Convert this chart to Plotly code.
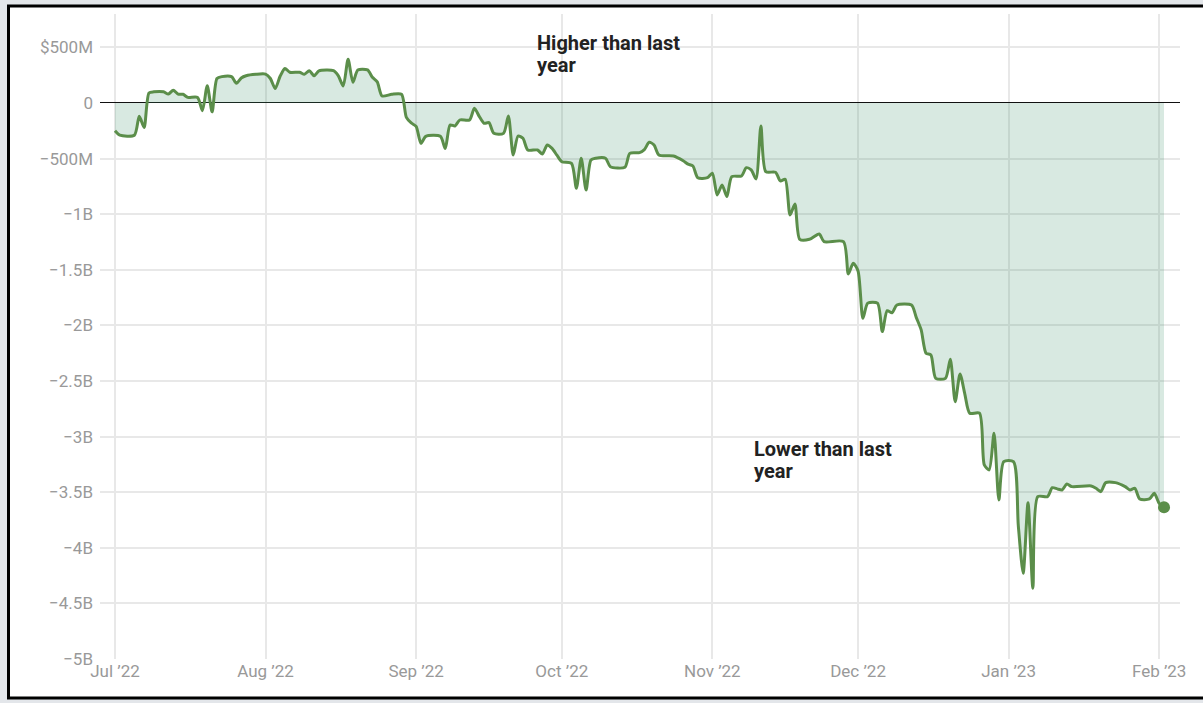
import plotly.graph_objects as go

# Difference vs. last year, in billions of dollars
dates = [
    "2022-07-01", "2022-07-02", "2022-07-05", "2022-07-06", "2022-07-07", "2022-07-08", "2022-07-09",
    "2022-07-11", "2022-07-12", "2022-07-13", "2022-07-14", "2022-07-15", "2022-07-16", "2022-07-18",
    "2022-07-19", "2022-07-20", "2022-07-21", "2022-07-22", "2022-07-23", "2022-07-25", "2022-07-26",
    "2022-07-27", "2022-07-28", "2022-07-30", "2022-08-01", "2022-08-02", "2022-08-03", "2022-08-04",
    "2022-08-05", "2022-08-06", "2022-08-08", "2022-08-09", "2022-08-10", "2022-08-11", "2022-08-12",
    "2022-08-15", "2022-08-16", "2022-08-17", "2022-08-18", "2022-08-19", "2022-08-20", "2022-08-22",
    "2022-08-23", "2022-08-24", "2022-08-25", "2022-08-27", "2022-08-29", "2022-08-30", "2022-08-31",
    "2022-09-01", "2022-09-02", "2022-09-03", "2022-09-06", "2022-09-07", "2022-09-08", "2022-09-09",
    "2022-09-10", "2022-09-12", "2022-09-13", "2022-09-14", "2022-09-15", "2022-09-16", "2022-09-17",
    "2022-09-19", "2022-09-20", "2022-09-21", "2022-09-22", "2022-09-23", "2022-09-24", "2022-09-26",
    "2022-09-27", "2022-09-28", "2022-09-29", "2022-09-30", "2022-10-01", "2022-10-03", "2022-10-04",
    "2022-10-05", "2022-10-06", "2022-10-07", "2022-10-08", "2022-10-10", "2022-10-11", "2022-10-14",
    "2022-10-15", "2022-10-17", "2022-10-18", "2022-10-19", "2022-10-20", "2022-10-21", "2022-10-24",
    "2022-10-26", "2022-10-27", "2022-10-28", "2022-10-29", "2022-10-31", "2022-11-01", "2022-11-02",
    "2022-11-03", "2022-11-04", "2022-11-05", "2022-11-07", "2022-11-08", "2022-11-09", "2022-11-10",
    "2022-11-11", "2022-11-12", "2022-11-14", "2022-11-15", "2022-11-16", "2022-11-17", "2022-11-18",
    "2022-11-19", "2022-11-21", "2022-11-23", "2022-11-24", "2022-11-28", "2022-11-29", "2022-11-30",
    "2022-12-01", "2022-12-02", "2022-12-03", "2022-12-05", "2022-12-06", "2022-12-07", "2022-12-08",
    "2022-12-09", "2022-12-12", "2022-12-13", "2022-12-14", "2022-12-15", "2022-12-16", "2022-12-17",
    "2022-12-19", "2022-12-20", "2022-12-21", "2022-12-22", "2022-12-23", "2022-12-24", "2022-12-26",
    "2022-12-27", "2022-12-28", "2022-12-29", "2022-12-30", "2022-12-31", "2023-01-02", "2023-01-03",
    "2023-01-04", "2023-01-05", "2023-01-06", "2023-01-07", "2023-01-09", "2023-01-10", "2023-01-11",
    "2023-01-12", "2023-01-13", "2023-01-14", "2023-01-18", "2023-01-19", "2023-01-20", "2023-01-21",
    "2023-01-23", "2023-01-25", "2023-01-26", "2023-01-27", "2023-01-28", "2023-01-30", "2023-01-31",
    "2023-02-01", "2023-02-02",
]
values_bn = [
    -0.25, -0.29, -0.29, -0.12, -0.22, 0.09, 0.10,
    0.10, 0.08, 0.115, 0.08, 0.078, 0.05, 0.05,
    -0.07, 0.155, -0.08, 0.22, 0.237, 0.237, 0.177,
    0.225, 0.245, 0.258, 0.26, 0.22, 0.13, 0.24,
    0.31, 0.276, 0.276, 0.258, 0.29, 0.245, 0.288,
    0.29, 0.243, 0.153, 0.393, 0.186, 0.297, 0.297,
    0.231, 0.19, 0.063, 0.078, 0.078, -0.13, -0.18,
    -0.21, -0.363, -0.30, -0.30, -0.41, -0.198, -0.207,
    -0.153, -0.153, -0.048, -0.12, -0.183, -0.177, -0.273,
    -0.273, -0.117, -0.468, -0.297, -0.318, -0.423, -0.423,
    -0.459, -0.378, -0.408, -0.47, -0.528, -0.543, -0.767,
    -0.497, -0.782, -0.513, -0.497, -0.497, -0.573, -0.578,
    -0.453, -0.447, -0.42, -0.354, -0.378, -0.468, -0.477,
    -0.52, -0.55, -0.567, -0.672, -0.672, -0.632, -0.827,
    -0.737, -0.842, -0.663, -0.656, -0.582, -0.602, -0.683,
    -0.207, -0.618, -0.623, -0.701, -0.686, -1.007, -0.908,
    -1.226, -1.226, -1.178, -1.247, -1.247, -1.538, -1.442,
    -1.51, -1.936, -1.80, -1.80, -2.056, -1.868, -1.886,
    -1.817, -1.817, -1.93, -2.041, -2.25, -2.266, -2.476,
    -2.476, -2.305, -2.686, -2.437, -2.62, -2.79, -2.79,
    -3.255, -3.30, -2.97, -3.57, -3.226, -3.226, -3.8,
    -4.23, -3.594, -4.364, -3.54, -3.54, -3.46, -3.47,
    -3.48, -3.426, -3.45, -3.444, -3.465, -3.495, -3.414,
    -3.414, -3.45, -3.48, -3.465, -3.561, -3.561, -3.51,
    -3.60, -3.636,
]

x_tick_vals = ["2022-07-01", "2022-08-01", "2022-09-01", "2022-10-01", "2022-11-01",
               "2022-12-01", "2023-01-01", "2023-02-01"]
x_tick_text = ["Jul \u201922", "Aug \u201922", "Sep \u201922", "Oct \u201922", "Nov \u201922",
               "Dec \u201922", "Jan \u201923", "Feb \u201923"]
y_tick_vals = [0.5, 0, -0.5, -1, -1.5, -2, -2.5, -3, -3.5, -4, -4.5, -5]
y_tick_text = ["$500M", "0", "\u2212500M", "\u22121B", "\u22121.5B", "\u22122B", "\u22122.5B",
               "\u22123B", "\u22123.5B", "\u22124B", "\u22124.5B", "\u22125B"]

annotation_lines = [
    ("Higher than last", 535, 43),
    ("year", 535, 65),
    ("Lower than last", 752, 449),
    ("year", 752, 471),
]

GREEN = "#5b8e4a"
FONT = "Roboto"

fig = go.Figure()
fig.add_trace(go.Scatter(
    x=dates, y=values_bn, mode="lines",
    line=dict(color=GREEN, width=3, shape="spline", smoothing=0.7),
    fill="tozeroy", fillcolor="rgba(60,145,105,0.2)",
    hoverinfo="skip", showlegend=False,
))
fig.add_trace(go.Scatter(
    x=[dates[-1]], y=[values_bn[-1]], mode="markers",
    marker=dict(color=GREEN, size=12),
    hoverinfo="skip", showlegend=False,
))

W, H = 1203, 703
ml, mr, mt, mb = 100, 23, 14, 44
pw, ph = W - ml - mr, H - mt - mb


def px_x(p):
    return (p - ml) / pw


def px_y(p):
    return (H - mb - p) / ph


fig.add_shape(type="rect", xref="paper", yref="paper",
              x0=px_x(8.5), x1=px_x(1215), y0=px_y(698), y1=px_y(6),
              line=dict(color="black", width=3), fillcolor="white", layer="below")

for txt, ax, ay in annotation_lines:
    fig.add_annotation(xref="paper", yref="paper", x=px_x(ax), y=px_y(ay),
                       xanchor="left", yanchor="middle", align="left", showarrow=False,
                       text="<b>" + txt + "</b>",
                       font=dict(family=FONT, size=20, color="#222222"))

fig.update_layout(
    width=W, height=H,
    margin=dict(l=ml, r=mr, t=mt, b=mb),
    paper_bgcolor="#e3e6ea", plot_bgcolor="rgba(0,0,0,0)",
    font=dict(family=FONT, size=17, color="#999999"),
    hovermode=False,
    xaxis=dict(
        range=["2022-06-27 22:00", "2023-02-05 07:00"],
        tickvals=x_tick_vals, ticktext=x_tick_text,
        showgrid=True, gridcolor="#e8e8e8", gridwidth=2,
        zeroline=False, showline=False, ticks="",
        tickfont=dict(family=FONT, size=17, color="#999999"),
    ),
    yaxis=dict(
        range=[-5, 0.8],
        tickvals=y_tick_vals, ticktext=y_tick_text,
        showgrid=True, gridcolor="#e8e8e8", gridwidth=2,
        zeroline=True, zerolinecolor="#111111", zerolinewidth=1,
        showline=False, ticks="", ticklabelstandoff=6,
        tickfont=dict(family=FONT, size=17, color="#999999"),
    ),
)

fig.write_html(
    "out.html",
    config={"displayModeBar": False, "staticPlot": True},
    post_script="document.body.style.margin='0';document.body.style.background='#e3e6ea';",
)
